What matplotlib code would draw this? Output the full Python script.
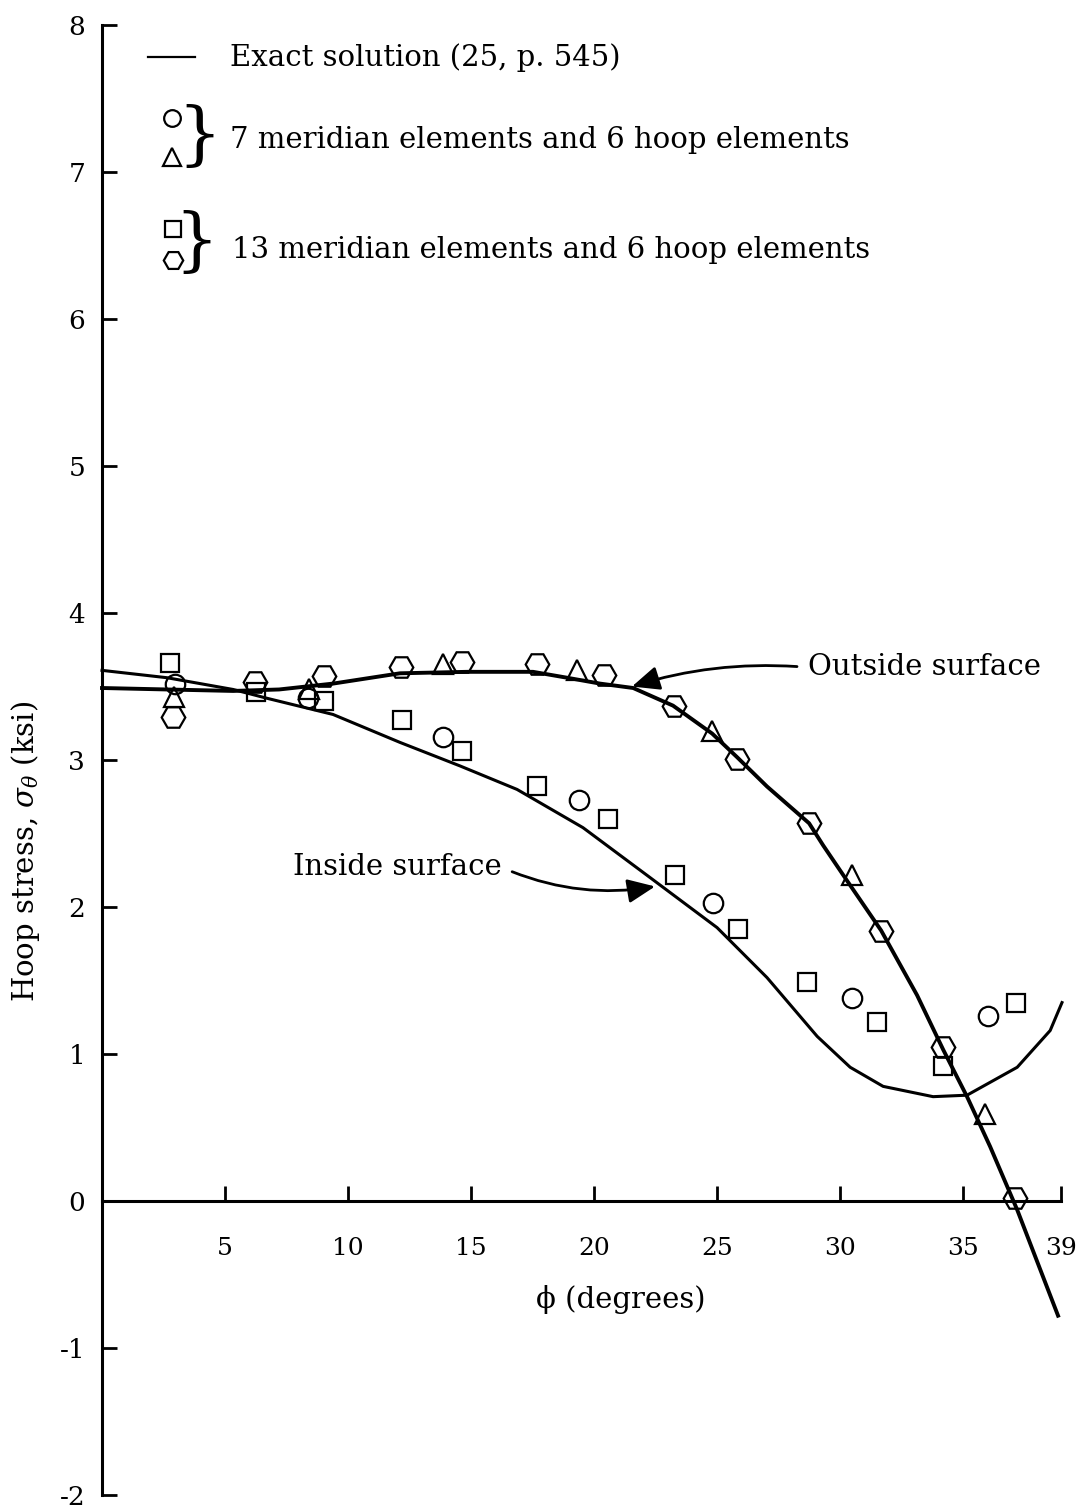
import matplotlib.pyplot as plt
import numpy as np

plt.rcParams['font.family'] = 'DejaVu Serif'
plt.rcParams['mathtext.fontset'] = 'dejavuserif'

# exact solution curves
outside_x = [0.0, 2.64, 5.33, 7.2, 9.39, 12.11, 14.84, 17.52, 18.9, 20.24, 21.59,
             23.21, 24.8, 25.81, 27.03, 28.74, 29.31, 30.28, 31.67, 33.13, 34.19,
             35.16, 36.1, 37.2, 38.86]
outside_y = [3.49, 3.48, 3.47, 3.48, 3.52, 3.59, 3.6, 3.6, 3.56, 3.52, 3.49,
             3.37, 3.18, 3.02, 2.82, 2.57, 2.42, 2.18, 1.84, 1.40, 1.03,
             0.71, 0.37, -0.06, -0.78]

inside_x = [0.0, 2.64, 5.33, 6.71, 9.39, 12.11, 14.55, 16.87, 19.55, 22.28, 25.0,
            27.03, 29.07, 30.41, 31.75, 33.78, 35.16, 37.2, 38.54, 39.02]
inside_y = [3.61, 3.56, 3.48, 3.42, 3.31, 3.12, 2.96, 2.80, 2.54, 2.2, 1.86,
            1.52, 1.12, 0.91, 0.78, 0.71, 0.72, 0.91, 1.16, 1.35]

# 7 meridian / 6 hoop elements
circ_x = [2.97, 8.37, 13.86, 19.39, 24.84, 30.49, 36.02]
circ_y = [3.52, 3.42, 3.16, 2.73, 2.03, 1.38, 1.26]
tri_x = [2.93, 8.41, 13.86, 19.31, 24.80, 30.49, 35.89]
tri_y = [3.43, 3.48, 3.65, 3.61, 3.20, 2.22, 0.59]

# 13 meridian / 6 hoop elements
sq_x = [2.76, 6.26, 9.02, 12.20, 14.63, 17.68, 20.57, 23.29, 25.85, 28.66, 31.50, 34.19, 37.15]
sq_y = [3.66, 3.46, 3.40, 3.27, 3.06, 2.82, 2.60, 2.22, 1.85, 1.49, 1.22, 0.92, 1.35]
hex_x = [2.89, 6.22, 9.02, 12.15, 14.63, 17.68, 20.41, 23.25, 25.81, 28.74, 31.67, 34.19, 37.11]
hex_y = [3.29, 3.53, 3.57, 3.63, 3.67, 3.65, 3.58, 3.37, 3.01, 2.57, 1.84, 1.05, 0.02]

xticks = [5, 10, 15, 20, 25, 30, 35, 39]
yticks = [-2, -1, 0, 1, 2, 3, 4, 5, 6, 7, 8]

fig = plt.figure(figsize=(10.91, 15.08), dpi=100)
ax = fig.add_axes([0.0935, 0.0086, 0.8975, 0.9748])
ax.set_xlim(0, 39.8)
ax.set_ylim(-2, 8)

ax.plot(outside_x, outside_y, color='black', lw=2.8, clip_on=False, zorder=2)
ax.plot(inside_x, inside_y, color='black', lw=2.2, clip_on=False, zorder=2)

mk = dict(color='black', mfc='none', mec='black', mew=1.6, ls='none', clip_on=False, zorder=3)
ax.plot(circ_x, circ_y, marker='o', ms=14, **mk)
ax.plot(tri_x, tri_y, marker='^', ms=15, **mk)
ax.plot(sq_x, sq_y, marker='s', ms=12.5, **mk)
ax.plot(hex_x, hex_y, marker='H', ms=17, **mk)

# axes styling
for s in ['top', 'right']:
    ax.spines[s].set_visible(False)
ax.spines['bottom'].set_position(('data', 0))
ax.spines['bottom'].set_bounds(0, 39)
ax.spines['left'].set_bounds(-2, 8)
ax.spines['left'].set_linewidth(2.2)
ax.spines['bottom'].set_linewidth(2.2)
ax.set_xticks(xticks)
ax.set_yticks(yticks)
ax.set_yticklabels(['-2', '-1', '0', '1', '2', '3', '4', '5', '6', '7', '8'])
ax.tick_params(axis='x', direction='in', length=11, width=2, pad=26, labelsize=18)
ax.tick_params(axis='y', direction='in', length=11, width=2, pad=12, labelsize=19)

ax.text(21.1, -0.67, 'ϕ (degrees)', fontsize=21, ha='center', va='center')
ax.text(-3.13, 2.38, r'Hoop stress, $\sigma_\theta$ (ksi)', fontsize=21,
        rotation=90, ha='center', va='center', clip_on=False)

# legend block
ax.plot([1.87, 3.78], [7.78, 7.78], color='black', lw=1.6)
ax.text(5.2, 7.78, 'Exact solution (25, p. 545)', fontsize=21, ha='left', va='center')
ax.plot([2.85], [7.37], marker='o', ms=12, **mk)
ax.plot([2.85], [7.10], marker='^', ms=13, **mk)
ax.text(3.95, 7.23, '}', fontsize=50, ha='center', va='center')
ax.text(5.2, 7.22, '7 meridian elements and 6 hoop elements', fontsize=21, ha='left', va='center')
ax.plot([2.89], [6.61], marker='s', ms=11, **mk)
ax.plot([2.89], [6.40], marker='H', ms=14, **mk)
ax.text(3.85, 6.51, '}', fontsize=50, ha='center', va='center')
ax.text(5.3, 6.47, '13 meridian elements and 6 hoop elements', fontsize=21, ha='left', va='center')

# curve labels
ax.annotate('Outside surface', xy=(21.54, 3.50), xytext=(28.7, 3.63),
            fontsize=21, ha='left', va='center',
            arrowprops=dict(arrowstyle='-|>,head_length=0.8,head_width=0.35', color='black', lw=2,
                            connectionstyle='arc3,rad=0.1', relpos=(0, 0.5),
                            shrinkA=6, shrinkB=0))
ax.annotate('Inside surface', xy=(22.48, 2.14), xytext=(7.76, 2.27),
            fontsize=21, ha='left', va='center',
            arrowprops=dict(arrowstyle='-|>,head_length=0.8,head_width=0.35', color='black', lw=2,
                            connectionstyle='arc3,rad=0.15', relpos=(1, 0.5),
                            shrinkA=6, shrinkB=0))

fig.savefig('out.png', dpi=100)
